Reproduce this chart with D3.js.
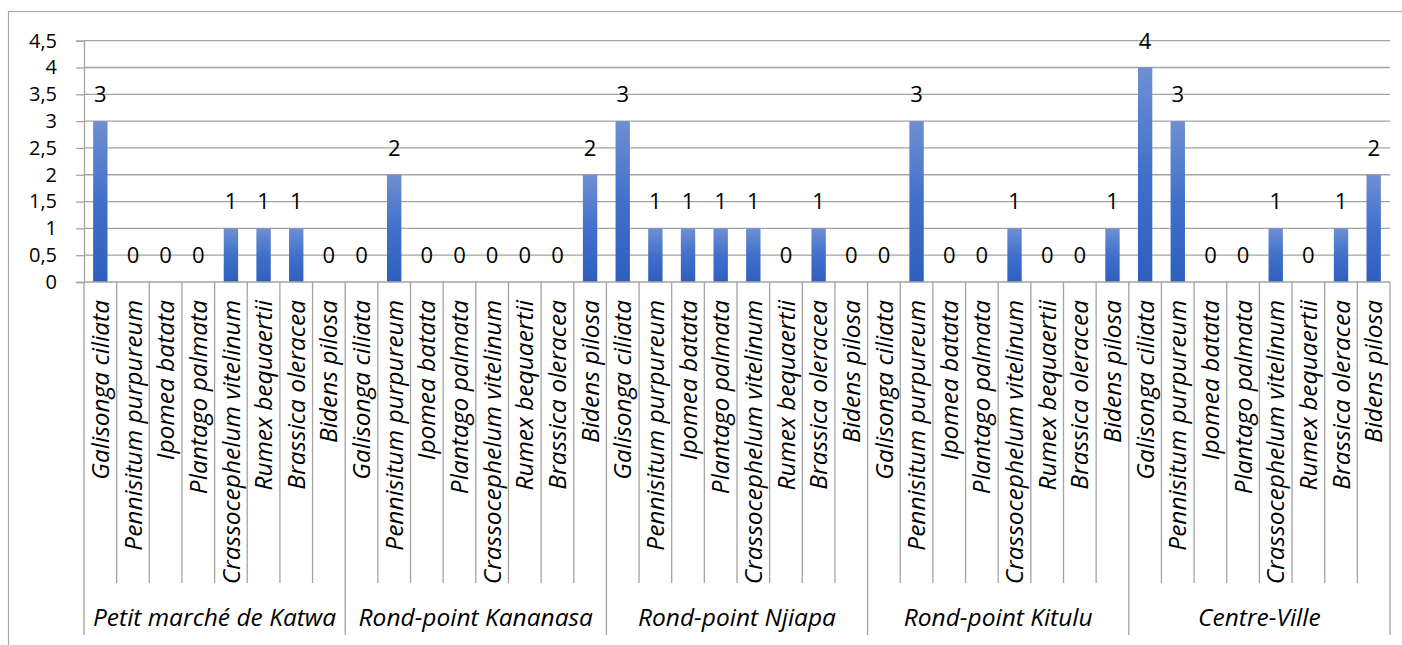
<!DOCTYPE html>
<html>
<head>
<meta charset="utf-8">
<script src="https://cdn.jsdelivr.net/npm/d3@7"></script>
<style>
  html, body { margin: 0; padding: 0; background: #fff; }
  svg { display: block; }
  text { font-family: "Open Sans", sans-serif; fill: #000; }
</style>
</head>
<body>
<svg id="chart" width="1402" height="645"></svg>
<script>
// Species observed at each site
const species = [
  "Galisonga ciliata", "Pennisitum purpureum", "Ipomea batata", "Plantago palmata",
  "Crassocephelum vitelinum", "Rumex bequaertii", "Brassica oleracea", "Bidens pilosa"
];
// Sites (outer category level)
const sites = [
  "Petit marché de Katwa", "Rond-point Kananasa", "Rond-point Njiapa",
  "Rond-point Kitulu", "Centre-Ville"
];
// Counts per species, one array per site
const katwa    = [3, 0, 0, 0, 1, 1, 1, 0];
const kananasa = [0, 2, 0, 0, 0, 0, 0, 2];
const njiapa   = [3, 1, 1, 1, 1, 0, 1, 0];
const kitulu   = [0, 3, 0, 0, 1, 0, 0, 1];
const centre   = [4, 3, 0, 0, 1, 0, 1, 2];
const siteValues = [katwa, kananasa, njiapa, kitulu, centre];
// Y-axis ticks
const yTicks = [0, 0.5, 1, 1.5, 2, 2.5, 3, 3.5, 4, 4.5];

const rows = [];
siteValues.forEach((vals, si) => {
  vals.forEach((v, ci) => rows.push({ site: sites[si], species: species[ci], value: v, idx: si * species.length + ci }));
});

const svg = d3.select("#chart");
const plotLeft = 84, plotRight = 1390, plotTop = 40.7, plotBase = 282;
const gridColor = "#a3a3a3";
const tickSize = "20px", valueSize = "22px", labelSize = "24.5px";

// Outer chart frame
svg.append("rect")
  .attr("x", 8.5).attr("y", 11.5).attr("width", 1600).attr("height", 800)
  .attr("fill", "none").attr("stroke", "#a6a6a6").attr("stroke-width", 1.2);

const slot = d3.scaleBand().domain(d3.range(rows.length)).range([plotLeft, plotRight]).padding(0);
const x = d3.scaleBand().domain(d3.range(rows.length)).range([plotLeft, plotRight])
  .paddingInner(0.56).paddingOuter(0.28);
const y = d3.scaleLinear().domain([0, 4.5]).range([plotBase, plotTop]);

// Bar gradient
const defs = svg.append("defs");
const grad = defs.append("linearGradient").attr("id", "barFill")
  .attr("x1", 0).attr("y1", 0).attr("x2", 0).attr("y2", 1);
grad.append("stop").attr("offset", "0%").attr("stop-color", "#6f8fd2");
grad.append("stop").attr("offset", "50%").attr("stop-color", "#4170cb");
grad.append("stop").attr("offset", "100%").attr("stop-color", "#2f5fbd");

// Horizontal gridlines
svg.append("g").selectAll("line").data(yTicks.filter(t => t > 0)).join("line")
  .attr("x1", plotLeft).attr("x2", plotRight)
  .attr("y1", d => y(d)).attr("y2", d => y(d))
  .attr("stroke", gridColor).attr("stroke-width", 1.3);

// Y axis
const yAxis = svg.append("g").attr("transform", `translate(${plotLeft},0)`)
  .call(d3.axisLeft(y).tickValues(yTicks).tickSize(8).tickPadding(19)
    .tickFormat(d => String(d).replace(".", ",")));
yAxis.select(".domain").attr("stroke", gridColor).attr("stroke-width", 1.3);
yAxis.selectAll(".tick line").attr("stroke", gridColor).attr("stroke-width", 1.3);
yAxis.selectAll(".tick text").style("font-size", tickSize).attr("fill", "#000")
  .style("font-family", "'Open Sans', sans-serif");

// Bars
svg.append("g").selectAll("rect").data(rows).join("rect")
  .attr("x", d => x(d.idx)).attr("width", x.bandwidth())
  .attr("y", d => y(d.value)).attr("height", d => y(0) - y(d.value))
  .attr("fill", "url(#barFill)");

// Value labels
svg.append("g").selectAll("text").data(rows).join("text")
  .attr("x", d => x(d.idx) + x.bandwidth() / 2)
  .attr("y", d => y(d.value) - 19)
  .attr("text-anchor", "middle")
  .style("font-size", valueSize)
  .text(d => d.value);

// Category axis baseline
svg.append("line").attr("x1", plotLeft).attr("x2", plotRight).attr("y1", plotBase).attr("y2", plotBase)
  .attr("stroke", gridColor).attr("stroke-width", 1.3);

// Separators between species and between sites
const bounds = d3.range(rows.length + 1);
svg.append("g").selectAll("line").data(bounds).join("line")
  .attr("x1", i => i < rows.length ? slot(i) : plotRight)
  .attr("x2", i => i < rows.length ? slot(i) : plotRight)
  .attr("y1", plotBase)
  .attr("y2", i => i % species.length === 0 ? 635 : 583)
  .attr("stroke", gridColor).attr("stroke-width", 1.3);

// Species labels (rotated)
svg.append("g").selectAll("text").data(rows).join("text")
  .attr("transform", d => `translate(${slot(d.idx) + slot.bandwidth() / 2},300) rotate(-90)`)
  .attr("text-anchor", "end").attr("dy", "0.35em")
  .style("font-size", labelSize).style("font-style", "italic")
  .text(d => d.species);

// Site labels
const siteWidth = slot.step() * species.length;
svg.append("g").selectAll("text").data(sites).join("text")
  .attr("x", (d, i) => plotLeft + siteWidth * (i + 0.5))
  .attr("y", 626)
  .attr("text-anchor", "middle")
  .style("font-size", labelSize).style("font-style", "italic")
  .text(d => d);
</script>
</body>
</html>
